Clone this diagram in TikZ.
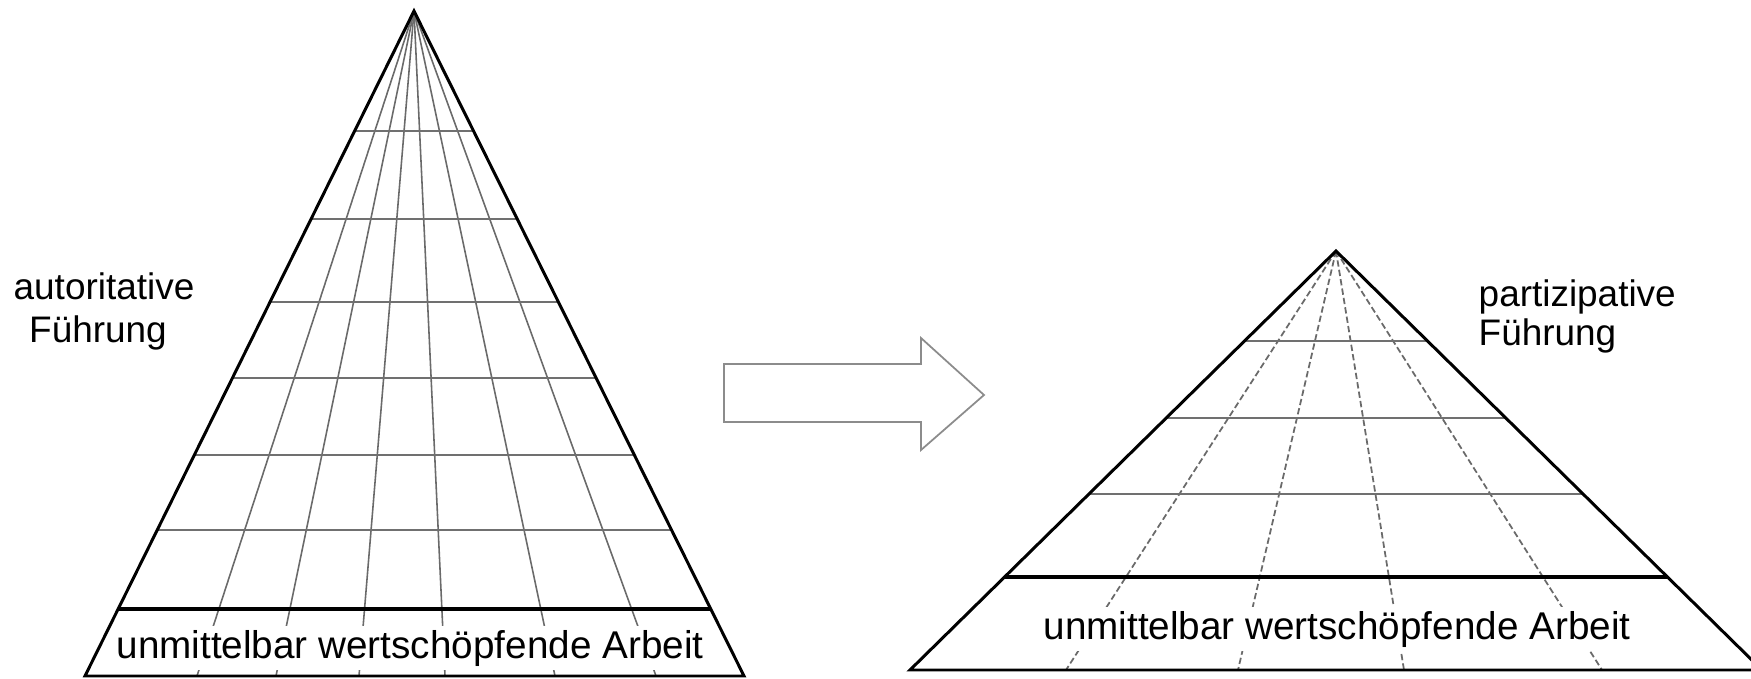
\documentclass[tikz,border=0pt]{standalone}
\usepackage{fontspec}
\setmainfont{Liberation Sans}
\usetikzlibrary{calc}
\definecolor{Rule}{HTML}{707070}
\definecolor{Ray}{HTML}{6A6A6A}
\definecolor{Outline}{HTML}{8C8C8C}

\begin{document}
\begin{tikzpicture}[x=0.01cm,y=-0.01cm,
  side/.style={line width=0.85pt,draw=black},
  band/.style={line width=1.2pt,draw=black},
  tier/.style={line width=0.55pt,draw=Rule},
  ray/.style={line width=0.45pt,draw=Ray},
  dashray/.style={line width=0.5pt,draw=Ray,dash pattern=on 1.8pt off 0.9pt},
  bandtext/.style={fill=white,inner sep=1pt,font=\fontsize{11}{13}\selectfont},
  leadlabel/.style={inner sep=0pt,font=\fontsize{10.5}{12}\selectfont},
  bigarrow/.style={draw=Outline,fill=white,line width=0.5pt}
]
  \useasboundingbox (0,0) rectangle (1751,679);
  % left pyramid
  \coordinate (lapex) at (414,11);
  \coordinate (lbl) at (85,676);
  \coordinate (lbr) at (744,676);
  \foreach \bx in {197,276,359,445,555,656}
    \draw[ray] (lapex) -- (\bx,676);
  \foreach \lev in {0.1805,0.3128,0.4376,0.5519,0.6677,0.7805}
    \draw[tier] ($(lapex)!\lev!(lbl)$) -- ($(lapex)!\lev!(lbr)$);
  \node[bandtext,anchor=base] (lwork) at (410,658) {unmittelbar wertschöpfende Arbeit};
  \draw[band] ($(lapex)!0.8992!(lbl)$) -- ($(lapex)!0.8992!(lbr)$);
  \draw[side] (lbl) -- (lapex) -- (lbr) -- cycle;
  \node[leadlabel,anchor=base] (lstyle) at (104,300) {autoritative};
  \node[leadlabel,anchor=base] (llead) at (98,342) {Führung};

  % arrow
  \draw[bigarrow] (724,364) -- (921,364) -- (921,338) -- (984,395) -- (921,450) -- (921,422) -- (724,422) -- cycle;

  % right pyramid
  \coordinate (rapex) at (1336,251);
  \coordinate (rbl) at (910,670);
  \coordinate (rbr) at (1762,670);
  \foreach \bx in {1066,1238,1404,1602}
    \draw[dashray] (rapex) -- (\bx,670);
  \foreach \lev in {0.2148,0.3986,0.5800}
    \draw[tier] ($(rapex)!\lev!(rbl)$) -- ($(rapex)!\lev!(rbr)$);
  \node[bandtext,anchor=base] (rwork) at (1337,639) {unmittelbar wertschöpfende Arbeit};
  \draw[band] ($(rapex)!0.7780!(rbl)$) -- ($(rapex)!0.7780!(rbr)$);
  \draw[side] (rbl) -- (rapex) -- (rbr) -- cycle;
  \node[leadlabel,anchor=base west] (rstyle) at (1478,307) {partizipative};
  \node[leadlabel,anchor=base west] (rlead) at (1478,345) {Führung};
\end{tikzpicture}
\end{document}
